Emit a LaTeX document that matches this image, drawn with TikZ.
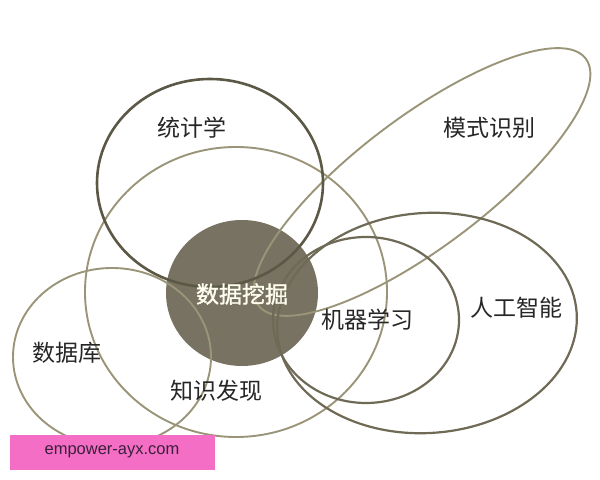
\documentclass[tikz,border=0pt]{standalone}
\usepackage{fontspec}
\setmainfont{Liberation Sans}
\newfontfamily\cjk{Noto Sans CJK SC}
\newfontfamily\cjkheavy[FakeBold=1.3]{Noto Sans CJK SC}
\usepackage{tikz}
\usetikzlibrary{shapes}

\definecolor{ringdark}{HTML}{5C5846}
\definecolor{ringmid}{HTML}{6E6A55}
\definecolor{ringlight}{HTML}{9A9478}
\definecolor{minefill}{HTML}{787262}
\definecolor{tagpink}{HTML}{F56EC5}
\definecolor{tagtext}{HTML}{3A1F3A}

\tikzset{
  field/.style={draw=ringlight,line width=1.9bp},
  fieldlbl/.style={font=\cjk\fontsize{23bp}{23bp}\selectfont,text=black!85,inner sep=0pt}
}

\begin{document}
\begin{tikzpicture}[x=1bp,y=1bp]
\useasboundingbox (0,0) rectangle (600,480);
\fill[white] (0,0) rectangle (600,480);

\fill[minefill] (242,187) ellipse [x radius=76bp, y radius=73bp];
\draw[field] (422,298) ellipse [x radius=205bp, y radius=65bp, rotate=37];
\draw[field] (236,188) ellipse [x radius=151bp, y radius=145bp];
\draw[field] (112,123) ellipse [x radius=99bp, y radius=89bp];
\draw[field,draw=ringmid,line width=2.2bp] (366,160) ellipse [x radius=93bp, y radius=83bp];
\draw[field,draw=ringmid,line width=2.2bp] (427,157) ellipse [x radius=150bp, y radius=110bp, rotate=4];
\draw[field,draw=ringdark,line width=2.6bp] (210,297) ellipse [x radius=113bp, y radius=104bp];

\node (stat) at (192bp,352bp)[fieldlbl] {统计学};
\node (pr) at (489bp,352bp)[fieldlbl] {模式识别};
\node (dm) at (242bp,186bp)[fieldlbl,font=\cjkheavy\fontsize{23bp}{23bp}\selectfont,text=white!94!yellow] {数据挖掘};
\node (ml) at (367bp,160bp)[fieldlbl] {机器学习};
\node (ai) at (516bp,172bp)[fieldlbl] {人工智能};
\node (db) at (67bp,127bp)[fieldlbl] {数据库};
\node (kd) at (216bp,89bp)[fieldlbl] {知识发现};

\fill[tagpink] (10,10) rectangle (215,45);
\node (tag) at (112bp,28bp)[text=tagtext,font=\fontsize{16.5bp}{18bp}\selectfont] {empower-ayx.com};
\end{tikzpicture}
\end{document}
